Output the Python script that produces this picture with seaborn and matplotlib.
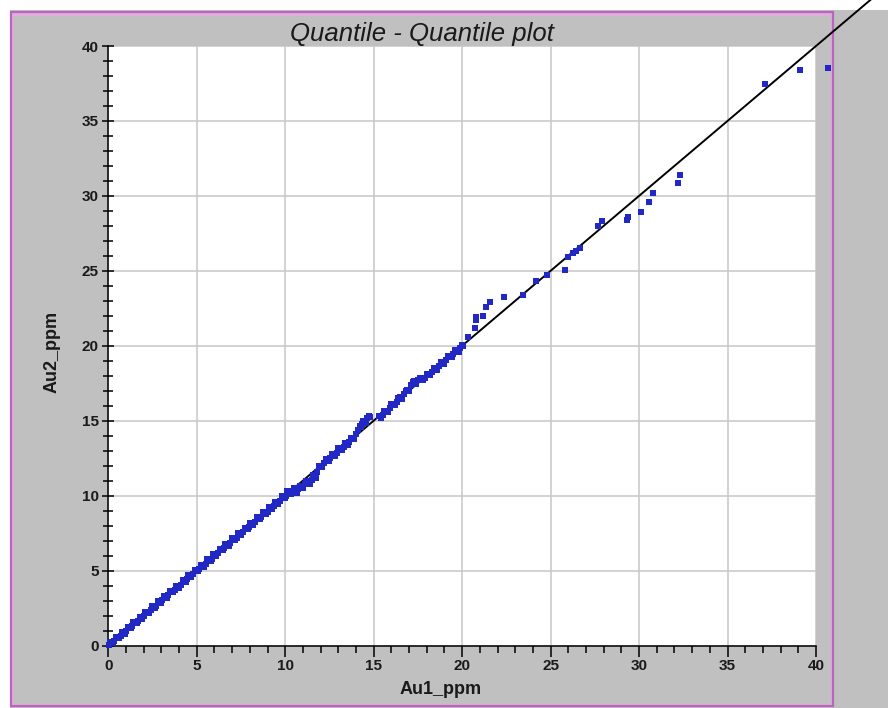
import matplotlib
matplotlib.use("Agg")
import matplotlib.pyplot as plt
import seaborn as sns
from matplotlib.patches import Rectangle
from matplotlib.ticker import MultipleLocator

# Sorted quantiles of the two assay series (ppm)
au1_ppm = [
    0.05, 0.20, 0.35, 0.50, 0.70, 0.85, 1.00, 1.20, 1.35, 1.50,
    1.70, 1.85, 2.00, 2.20, 2.40, 2.55, 2.70, 2.90, 3.05, 3.20,
    3.40, 3.60, 3.75, 3.90, 4.10, 4.30, 4.45, 4.60, 4.80, 5.00,
    5.15, 5.30, 5.50, 5.70, 5.85, 6.00, 6.20, 6.40, 6.55, 6.70,
    6.90, 7.10, 7.25, 7.40, 7.60, 7.80, 7.95, 8.10, 8.30, 8.50,
    8.65, 8.80, 9.00, 9.20, 9.35, 9.50, 9.70, 9.90, 10.05, 10.20,
    10.40, 10.60, 10.75, 10.90, 11.10, 11.30, 11.50, 11.65, 11.80, 12.00,
    12.20, 12.40, 12.55, 12.70, 12.90, 13.10, 13.30, 13.45, 13.60, 13.80,
    14.00, 14.20, 14.35, 14.50, 14.65, 14.80, 15.30, 15.50, 15.70, 15.90,
    16.10, 16.30, 16.50, 16.70, 16.90, 17.10, 17.30, 17.50, 17.70, 17.90,
    18.10, 18.30, 18.50, 18.70, 18.90, 19.10, 19.30, 19.50, 19.70, 19.90,
    20.06, 20.34, 20.70, 20.77, 20.80, 21.19, 21.34, 21.56, 22.36, 23.45,
    24.20, 24.77, 25.80, 26.00, 26.27, 26.45, 26.65, 27.70, 27.90, 29.30,
    29.35, 30.13, 30.57, 30.80, 32.20, 32.34, 37.10, 39.07, 40.70,
]
au2_ppm = [
    0.03, 0.22, 0.31, 0.52, 0.66, 0.88, 0.97, 1.23, 1.31, 1.54,
    1.66, 1.88, 1.96, 2.24, 2.35, 2.59, 2.66, 2.93, 3.01, 3.24,
    3.36, 3.63, 3.70, 3.94, 4.05, 4.33, 4.41, 4.64, 4.74, 5.03,
    5.10, 5.34, 5.45, 5.73, 5.80, 6.05, 6.14, 6.44, 6.50, 6.75,
    6.85, 7.14, 7.20, 7.45, 7.55, 7.84, 7.90, 8.15, 8.24, 8.54,
    8.58, 8.85, 8.94, 9.24, 9.30, 9.55, 9.64, 9.93, 10.00, 10.18,
    10.28, 10.34, 10.42, 10.58, 10.75, 10.95, 11.05, 11.30, 11.60, 11.95,
    12.15, 12.38, 12.50, 12.72, 12.86, 13.12, 13.26, 13.48, 13.58, 13.82,
    14.10, 14.62, 14.80, 14.95, 15.15, 15.27, 15.30, 15.40, 15.62, 15.85,
    16.05, 16.28, 16.55, 16.80, 17.05, 17.35, 17.62, 17.72, 17.78, 17.85,
    18.05, 18.25, 18.50, 18.65, 18.88, 19.05, 19.28, 19.45, 19.66, 19.82,
    19.95, 20.60, 21.17, 21.70, 21.95, 22.00, 22.58, 22.95, 23.24, 23.40,
    24.30, 24.73, 25.07, 25.90, 26.20, 26.35, 26.50, 27.96, 28.30, 28.40,
    28.60, 28.90, 29.60, 30.20, 30.85, 31.40, 37.46, 38.40, 38.50,
]

# Further quantile pairs inside the dense 0-20 ppm range
au1_ppm_dense = [
    0.12, 0.28, 0.42, 0.60, 0.78, 0.92, 1.10, 1.28, 1.42, 1.60,
    1.78, 1.92, 2.10, 2.30, 2.48, 2.62, 2.80, 2.98, 3.12, 3.30,
    3.50, 3.68, 3.82, 4.00, 4.20, 4.38, 4.52, 4.70, 4.90, 5.08,
    5.22, 5.40, 5.60, 5.78, 5.92, 6.10, 6.30, 6.48, 6.62, 6.80,
    7.00, 7.18, 7.32, 7.50, 7.70, 7.88, 8.02, 8.20, 8.40, 8.58,
    8.72, 8.90, 9.10, 9.28, 9.42, 9.60, 9.80, 9.98, 10.12, 10.30,
    10.50, 10.68, 10.82, 11.00, 11.20, 11.40, 11.58, 11.72, 11.90, 12.10,
    12.30, 12.48, 12.62, 12.80, 13.00, 13.20, 13.38, 13.52, 13.70, 13.90,
    14.10, 14.28, 14.42, 14.58, 14.72, 15.40, 15.60, 15.80, 16.00, 16.20,
    16.40, 16.60, 16.80, 17.00, 17.20, 17.40, 17.60, 17.80, 18.00, 18.20,
    18.40, 18.60, 18.80, 19.00, 19.20, 19.40, 19.60, 19.80, 20.00,
]
au2_ppm_dense = [
    0.22, 0.18, 0.55, 0.48, 0.90, 0.80, 1.22, 1.15, 1.58, 1.47,
    1.92, 1.80, 2.26, 2.16, 2.62, 2.50, 2.95, 2.86, 3.30, 3.18,
    3.65, 3.55, 3.98, 3.86, 4.36, 4.24, 4.70, 4.58, 5.05, 4.94,
    5.40, 5.26, 5.76, 5.64, 6.10, 5.96, 6.46, 6.34, 6.80, 6.66,
    7.16, 7.04, 7.50, 7.36, 7.86, 7.74, 8.20, 8.06, 8.56, 8.44,
    8.90, 8.76, 9.26, 9.14, 9.60, 9.46, 9.96, 9.84, 10.28, 10.12,
    10.50, 10.20, 10.62, 10.48, 11.00, 10.78, 11.40, 11.15, 11.98, 11.92,
    12.44, 12.32, 12.80, 12.64, 13.16, 13.04, 13.54, 13.40, 13.86, 13.78,
    14.40, 14.55, 15.00, 14.82, 15.30, 15.18, 15.62, 15.58, 16.10, 16.02,
    16.52, 16.48, 17.00, 16.95, 17.55, 17.45, 17.88, 17.70, 18.12, 18.02,
    18.52, 18.40, 18.92, 18.80, 19.32, 19.22, 19.72, 19.60, 20.08,
]

# 1:1 reference line
ref_line = [0.0, 44.0]

x_ticks = [0, 5, 10, 15, 20, 25, 30, 35, 40]
y_ticks = [0, 5, 10, 15, 20, 25, 30, 35, 40]

sns.set_theme(style="white")
plt.rcParams["font.family"] = ["Liberation Sans", "DejaVu Sans"]

W, H = 888, 708
fig = plt.figure(figsize=(W / 100, H / 100), dpi=100, facecolor="white")


def frac_rect(x0, y0, x1, y1):
    """Pixel box (top-left origin) -> figure-fraction rectangle."""
    return (x0 / W, 1 - y1 / H), (x1 - x0) / W, (y1 - y0) / H


# grey window background and pink panel frame
for (xy, w, h), fc, ec, lw in [
    (frac_rect(10, 10, W, H), "#c0c0c0", "none", 0),
    (frac_rect(12, 14, 832, 705), "none", "#e2acdf", 2.2),
    (frac_rect(11, 12, 832.5, 706), "none", "#b868bc", 1.6),
]:
    fig.patches.append(Rectangle(xy, w, h, transform=fig.transFigure,
                                 facecolor=fc, edgecolor=ec, linewidth=lw,
                                 zorder=-10))

ax = fig.add_axes([108.3 / W, 1 - 645.5 / H, (816 - 108.3) / W, (645.5 - 46) / H])
ax.set_facecolor("white")

sns.lineplot(x=ref_line, y=ref_line, ax=ax, color="black", linewidth=1.4,
             clip_on=False, zorder=2)
point_style = dict(marker="s", s=20, color="#2228c4", linewidth=0,
                   clip_on=False, zorder=3)
sns.scatterplot(x=au1_ppm_dense, y=au2_ppm_dense, ax=ax, **point_style)
sns.scatterplot(x=au1_ppm, y=au2_ppm, ax=ax, **point_style)

ax.set_xlim(0, 40)
ax.set_ylim(0, 40)
ax.set_xticks(x_ticks)
ax.set_yticks(y_ticks)
ax.set_xticklabels([str(t) for t in x_ticks], fontweight="bold")
ax.set_yticklabels([str(t) for t in y_ticks], fontweight="bold")
ax.xaxis.set_minor_locator(MultipleLocator(1))
ax.yaxis.set_minor_locator(MultipleLocator(1))

ax.grid(True, which="major", color="#c6c6c6", linewidth=1.1)
ax.set_axisbelow(True)

ax.tick_params(axis="x", which="major", direction="out", length=8, width=1.1,
               pad=2, labelsize=11, labelcolor="#1a1a1a", color="black")
ax.tick_params(axis="x", which="minor", direction="out", length=5, width=1.1,
               color="black")
ax.tick_params(axis="y", which="major", direction="inout", length=9, width=1.1,
               pad=2.5, labelsize=11, labelcolor="#1a1a1a", color="black")
ax.tick_params(axis="y", which="minor", direction="inout", length=7, width=1.1,
               color="black")
ax.tick_params(bottom=True, left=True, which="both")

for side in ("top", "right"):
    ax.spines[side].set_visible(False)
for side in ("left", "bottom"):
    ax.spines[side].set_color("black")
    ax.spines[side].set_linewidth(1.1)

ax.set_xlabel("")
ax.set_ylabel("")
fig.text(441 / W, 1 - 690 / H, "Au1_ppm", ha="center", va="center",
         fontsize=13, fontweight="bold", color="#1a1a1a")
fig.text(52 / W, 1 - 352 / H, "Au2_ppm", ha="center", va="center",
         rotation=90, fontsize=13, fontweight="bold", color="#1a1a1a")
fig.text(422 / W, 1 - 34 / H, "Quantile - Quantile plot", ha="center",
         va="center", fontsize=18.5, style="italic", color="#1a1a1a")

fig.savefig("out.png", dpi=100)
